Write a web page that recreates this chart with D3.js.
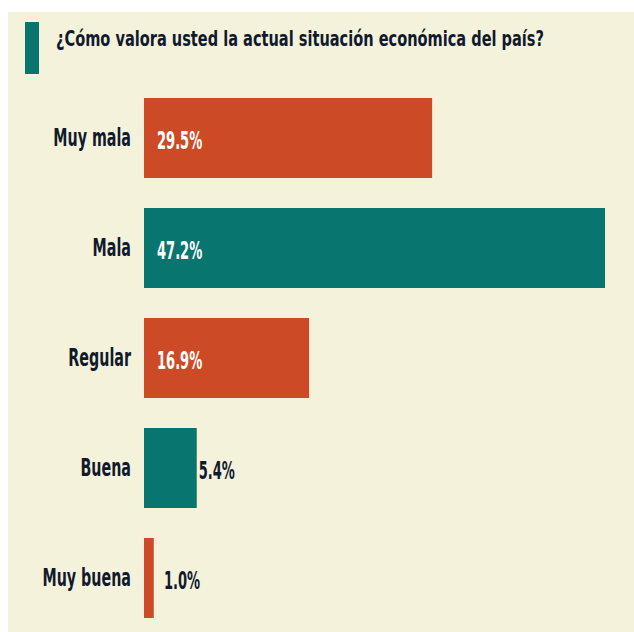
<!DOCTYPE html>
<html>
<head>
<meta charset="utf-8">
<script src="https://cdn.jsdelivr.net/npm/d3@7"></script>
<style>
  body { margin: 0; background: #fff; }
  text { font-family: "DejaVu Sans Condensed", "Liberation Sans", sans-serif; font-weight: bold; }
</style>
</head>
<body>
<div id="chart"></div>
<script>
const width = 634, height = 632;

// data
const title = "¿Cómo valora usted la actual situación económica del país?";
const categories = ["Muy mala", "Mala", "Regular", "Buena", "Muy buena"];
const values = [29.5, 47.2, 16.9, 5.4, 1.0];
const barColors = ["#cc4b26", "#08756f", "#cc4b26", "#08756f", "#cc4b26"];

const ink = "#111a2d";
// the original uses a narrow DIN-like face, so squeeze the text horizontally
const squishTitle = 0.79, squishLabel = 0.635, squishValue = 0.58;

const svg = d3.select("#chart")
  .append("svg")
    .attr("width", width)
    .attr("height", height);

// beige panel
svg.append("rect")
  .attr("x", 8).attr("y", 12)
  .attr("width", width - 8).attr("height", height - 12)
  .attr("fill", "#f5f2dc");

// title marker + title
svg.append("rect")
  .attr("x", 25).attr("y", 22)
  .attr("width", 14).attr("height", 52)
  .attr("fill", "#08756f");

svg.append("text")
  .attr("transform", `translate(56,46) scale(${squishTitle},1)`)
  .attr("font-size", 20.5)
  .attr("fill", ink)
  .text(title);

const data = categories.map((c, i) => ({ cat: c, value: values[i], color: barColors[i] }));

const x = d3.scaleLinear()
  .domain([0, d3.max(values)])
  .range([144, 605]);

const y = d3.scaleBand()
  .domain(categories)
  .range([98, 618])
  .paddingInner(30 / 110);

const rows = svg.selectAll(".row")
  .data(data)
  .join("g")
    .attr("class", "row");

rows.append("rect")
  .attr("x", x(0))
  .attr("y", d => y(d.cat))
  .attr("width", d => x(d.value) - x(0))
  .attr("height", y.bandwidth())
  .attr("fill", d => d.color);

// category labels
rows.append("text")
  .attr("transform", d => `translate(131,${y(d.cat) + y.bandwidth() / 2 + 8}) scale(${squishLabel},1)`)
  .attr("text-anchor", "end")
  .attr("font-size", 25)
  .attr("fill", ink)
  .text(d => d.cat);

// value labels, inside the bar when it is wide enough
const inside = d => x(d.value) - x(0) > 80;
rows.append("text")
  .attr("transform", d => {
    const tx = inside(d) ? x(0) + 13 : Math.max(x(d.value) + 2, x(0) + 20);
    return `translate(${tx},${y(d.cat) + y.bandwidth() / 2 + 11}) scale(${squishValue},1)`;
  })
  .attr("font-size", 25)
  .attr("fill", d => inside(d) ? "#fff" : ink)
  .text(d => d.value.toFixed(1) + "%");
</script>
</body>
</html>
